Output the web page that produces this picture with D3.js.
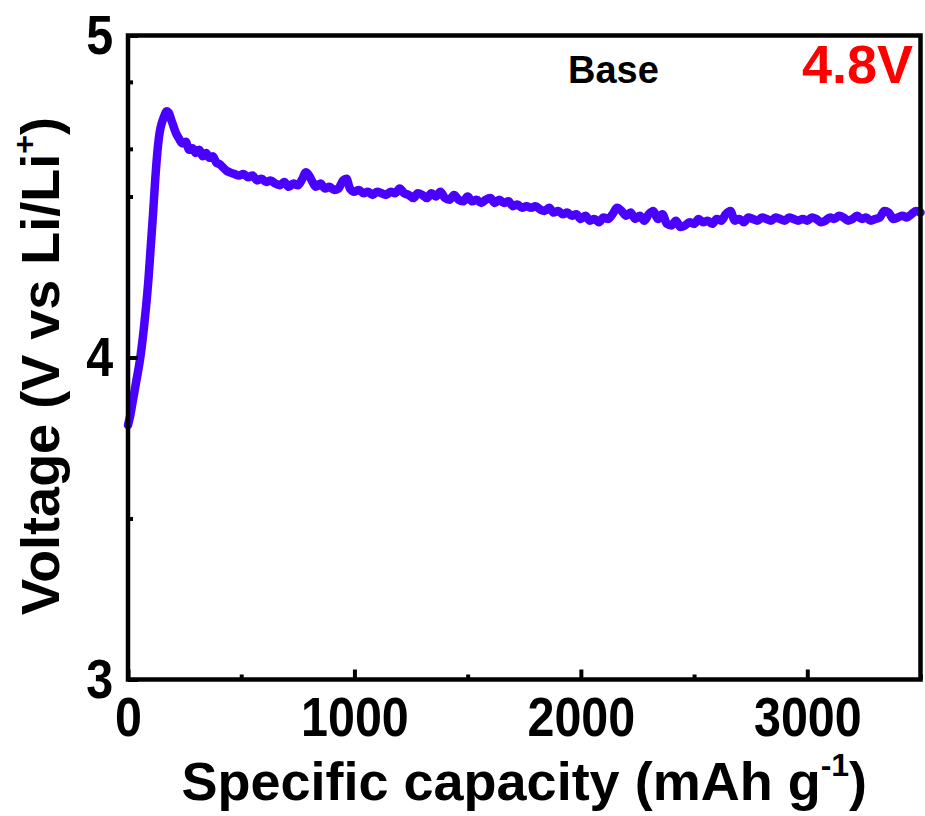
<!DOCTYPE html>
<html>
<head>
<meta charset="utf-8">
<script src="https://cdn.jsdelivr.net/npm/d3@7"></script>
<style>
  body { margin: 0; background: #fff; }
  svg text { font-family: "Liberation Sans", Arial, sans-serif; font-weight: bold; }
</style>
</head>
<body>
<svg id="chart" width="925" height="816"></svg>
<script>
// data (capacity in mAh/g, voltage in V)
const capacity = [0,10,20,30,40,50,60,70,80,90,100,110,120,130,140,150,160,170,180,190,200,210,225,240,255,270,285,300,315,330,345,360,375,390,405,420,435,450,470,490,510,530,550,570,590,610,630,650,670,690,710,730,750,770,785,800,815,830,850,870,890,910,930,950,965,980,1000,1020,1040,1060,1080,1100,1120,1140,1160,1180,1200,1220,1240,1260,1280,1300,1320,1340,1360,1380,1400,1420,1440,1460,1480,1500,1520,1540,1560,1580,1600,1620,1640,1660,1680,1700,1720,1740,1760,1780,1800,1820,1840,1860,1880,1900,1920,1940,1960,1980,2000,2020,2040,2060,2080,2100,2120,2140,2160,2180,2200,2220,2240,2260,2280,2300,2320,2340,2360,2380,2400,2420,2440,2460,2480,2500,2520,2540,2560,2580,2600,2620,2640,2660,2680,2700,2720,2740,2760,2780,2800,2820,2840,2860,2880,2900,2920,2940,2960,2980,3000,3020,3040,3060,3080,3100,3120,3140,3160,3180,3200,3220,3240,3260,3280,3300,3320,3340,3360,3380,3400,3420,3440,3460,3480,3500]
const voltage = [3.79,3.82,3.86,3.90,3.94,3.98,4.03,4.09,4.16,4.24,4.34,4.44,4.55,4.64,4.70,4.73,4.75,4.765,4.76,4.74,4.72,4.70,4.68,4.665,4.67,4.645,4.65,4.635,4.645,4.625,4.635,4.62,4.625,4.605,4.60,4.59,4.58,4.575,4.57,4.565,4.57,4.56,4.565,4.55,4.555,4.545,4.55,4.54,4.535,4.545,4.53,4.54,4.535,4.555,4.575,4.565,4.545,4.53,4.54,4.525,4.53,4.52,4.525,4.55,4.555,4.525,4.515,4.52,4.51,4.515,4.505,4.515,4.51,4.505,4.515,4.51,4.525,4.51,4.505,4.495,4.51,4.505,4.495,4.51,4.50,4.515,4.495,4.49,4.505,4.49,4.485,4.50,4.485,4.49,4.48,4.49,4.495,4.48,4.49,4.48,4.485,4.47,4.475,4.465,4.47,4.465,4.47,4.46,4.455,4.465,4.45,4.455,4.445,4.45,4.44,4.445,4.43,4.44,4.425,4.43,4.42,4.435,4.43,4.445,4.465,4.455,4.44,4.45,4.43,4.44,4.425,4.445,4.455,4.43,4.445,4.415,4.41,4.425,4.405,4.41,4.42,4.415,4.43,4.42,4.425,4.415,4.43,4.425,4.445,4.455,4.425,4.43,4.42,4.435,4.43,4.425,4.435,4.43,4.425,4.435,4.43,4.425,4.435,4.43,4.425,4.43,4.425,4.435,4.43,4.42,4.425,4.435,4.43,4.44,4.435,4.425,4.43,4.44,4.43,4.435,4.425,4.43,4.435,4.455,4.45,4.43,4.435,4.44,4.435,4.445,4.455,4.45]

const xMajor = [0, 1000, 2000, 3000]
const xMinor = [500, 1500, 2500, 3500]
const yMajor = [3, 4, 5]
const yMinor = [3.5, 4.5, 4.648, 4.856]

const svg = d3.select('#chart')
const mLeft = 128, mRight = 920.5, mTop = 35.5, mBottom = 679.5

const x = d3.scaleLinear().domain([0, 3500]).range([mLeft, mRight])
const y = d3.scaleLinear().domain([3, 5]).range([mBottom, mTop])

const points = capacity.map((c, i) => [c, voltage[i]])

// curve
svg.append('path')
    .datum(points)
    .attr('fill', 'none')
    .attr('stroke', '#4a00ff')
    .attr('stroke-width', 8.5)
    .attr('stroke-linejoin', 'round')
    .attr('stroke-linecap', 'round')
    .attr('d', d3.line().x(d => x(d[0])).y(d => y(d[1])).curve(d3.curveMonotoneX))

// frame
svg.append('rect')
    .attr('x', mLeft).attr('y', mTop)
    .attr('width', mRight - mLeft).attr('height', mBottom - mTop)
    .attr('fill', 'none').attr('stroke', '#000').attr('stroke-width', 4.5)

function styleAxis(g) {
    g.select('.domain').remove()
    g.selectAll('line').attr('stroke', '#000').attr('stroke-width', 4)
    g.selectAll('text').attr('fill', '#000').style('font-size', '55px')
        .attr('transform', 'scale(0.88,1)')
}

// x axis
svg.append('g')
    .attr('transform', `translate(0,${mBottom})`)
    .call(d3.axisBottom(x).tickValues(xMajor).tickSizeInner(-10).tickSizeOuter(0).tickPadding(17).tickFormat(d3.format('d')))
    .call(styleAxis)
svg.append('g')
    .attr('transform', `translate(0,${mBottom})`)
    .call(d3.axisBottom(x).tickValues(xMinor).tickSizeInner(-5).tickSizeOuter(0).tickFormat(''))
    .call(styleAxis)

// y axis
svg.append('g')
    .attr('transform', `translate(${mLeft},0)`)
    .call(d3.axisLeft(y).tickValues(yMajor).tickSizeInner(-10).tickSizeOuter(0).tickPadding(17).tickFormat(d3.format('d')))
    .call(styleAxis)
svg.append('g')
    .attr('transform', `translate(${mLeft},0)`)
    .call(d3.axisLeft(y).tickValues(yMinor).tickSizeInner(-5).tickSizeOuter(0).tickFormat(''))
    .call(styleAxis)

// axis titles
const xt = svg.append('text')
    .attr('x', (mLeft + mRight) / 2).attr('y', 800)
    .attr('text-anchor', 'middle')
    .style('font-size', '54px')
xt.append('tspan').text('Specific capacity (mAh g')
xt.append('tspan').text('-1').style('font-size', '32px').attr('dy', -24)
xt.append('tspan').text(')').attr('dy', 24)

const yt = svg.append('text')
    .attr('transform', `translate(59,366) rotate(-90)`)
    .attr('text-anchor', 'middle')
    .style('font-size', '54px')
yt.append('tspan').text('Voltage (V vs Li/Li')
yt.append('tspan').text('+').style('font-size', '32px').attr('dy', -24)
yt.append('tspan').text(')').attr('dy', 24)

// annotations
svg.append('text')
    .attr('x', 568).attr('y', 83)
    .style('font-size', '38px')
    .text('Base')
svg.append('text')
    .attr('x', 913).attr('y', 83)
    .attr('text-anchor', 'end')
    .attr('fill', '#ff0000')
    .style('font-size', '54px')
    .text('4.8V')
</script>
</body>
</html>
